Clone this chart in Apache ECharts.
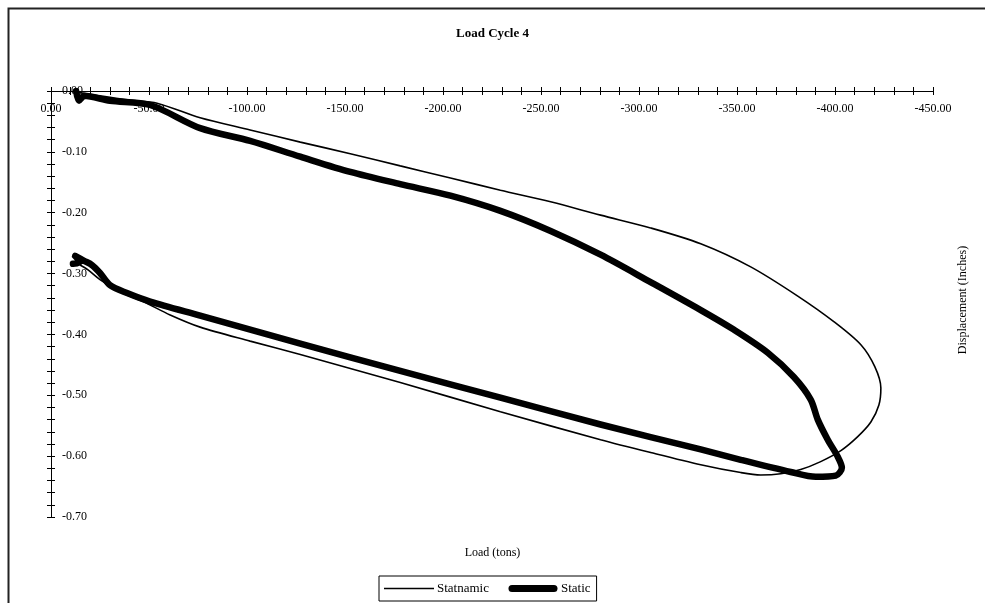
<!DOCTYPE html>
<html>
<head>
<meta charset="utf-8">
<script src="https://cdn.jsdelivr.net/npm/echarts@6/dist/echarts.min.js"></script>
<style>
html,body{margin:0;padding:0;background:#fff;}
#chart{width:985px;height:603px;}
</style>
</head>
<body>
<div id="chart"></div>
<script>
// ---- Data (Load in tons, Displacement in inches) ----
const chartTitle = "Load Cycle 4";
const xAxisTitle = "Load (tons)";
const yAxisTitle = "Displacement (Inches)";
const seriesNames = ["Statnamic", "Static"];

const statnamicLoad = [-13.8,-25.0,-40.3,-54.1,-76.1,-101.6,-127.2,-152.7,-178.2,-203.8,-229.3,-254.9,-280.4,-305.9,-331.5,-357.0,-381.0,-399.4,-413.2,-420.3,-423.4,-422.4,-418.3,-411.6,-403.0,-392.7,-382.5,-372.3,-362.1,-351.9,-331.5,-305.9,-280.4,-229.3,-178.2,-127.2,-101.6,-76.1,-60.8,-47.0,-35.2,-25.0,-18.9,-14.8];
const statnamicDisp = [-0.002,-0.008,-0.015,-0.020,-0.044,-0.064,-0.084,-0.103,-0.123,-0.143,-0.163,-0.182,-0.204,-0.225,-0.251,-0.289,-0.337,-0.379,-0.417,-0.453,-0.488,-0.516,-0.544,-0.568,-0.591,-0.609,-0.622,-0.629,-0.631,-0.627,-0.614,-0.594,-0.573,-0.527,-0.479,-0.433,-0.411,-0.388,-0.368,-0.346,-0.330,-0.310,-0.294,-0.286];

const staticLoad = [-12.8,-14.3,-16.9,-30.1,-50.6,-76.1,-101.6,-127.2,-152.7,-178.2,-203.8,-229.3,-254.9,-280.4,-305.9,-331.5,-348.3,-365.7,-379.0,-387.6,-391.2,-396.3,-401.4,-403.5,-400.4,-390.2,-377.4,-351.9,-331.5,-280.4,-229.3,-178.2,-127.2,-76.1,-50.6,-38.8,-30.1,-25.0,-20.9,-16.9,-12.3,-14.8,-11.2];
const staticDisp = [0.000,-0.016,-0.008,-0.016,-0.023,-0.061,-0.082,-0.108,-0.133,-0.153,-0.172,-0.197,-0.230,-0.269,-0.314,-0.360,-0.392,-0.430,-0.470,-0.507,-0.540,-0.573,-0.601,-0.619,-0.632,-0.634,-0.626,-0.606,-0.589,-0.548,-0.504,-0.460,-0.415,-0.369,-0.346,-0.332,-0.319,-0.299,-0.286,-0.279,-0.271,-0.281,-0.284];

const xMin = -450, xMax = 0, xStep = 50;
const yMin = -0.7, yMax = 0, yStep = 0.1;

// ---- Build ----
const font = "'Liberation Serif', 'Times New Roman', serif";
const pair = (a, b) => a.map((v, i) => [v, b[i]]);
const fmt = v => (Math.abs(v) < 1e-9 ? 0 : v).toFixed(2);

const chart = echarts.init(document.getElementById('chart'), null, {renderer: 'canvas'});

const baseX = {
  type: 'value', min: xMin, max: xMax, interval: xStep, inverse: true,
  position: 'top', splitLine: {show: false},
  axisLine: {onZero: false, lineStyle: {color: '#000', width: 1}},
  minorTick: {show: true, splitNumber: 5, length: 4, lineStyle: {color: '#000', width: 1}},
  minorSplitLine: {show: false}
};
const baseY = {
  type: 'value', min: yMin, max: yMax, interval: yStep,
  position: 'left', splitLine: {show: false},
  axisLine: {onZero: false, lineStyle: {color: '#000', width: 1}},
  minorTick: {show: true, splitNumber: 5, length: 4, lineStyle: {color: '#000', width: 1}},
  minorSplitLine: {show: false}
};

const legendThin = 'path://M0,0L0,0M0,3.3L50,3.3L50,4.7L0,4.7ZM50,8L50,8';
const legendThick = 'path://M4,0.5L46,0.5A3.5,3.5 0 0 1 46,7.5L4,7.5A3.5,3.5 0 0 1 4,0.5ZM0,0L0,0M50,8L50,8';

chart.setOption({
  animation: false,
  backgroundColor: '#fff',
  textStyle: {fontFamily: font, color: '#000'},
  title: [
    {text: chartTitle, left: 'center', top: 22,
     textStyle: {fontFamily: font, fontSize: 13, fontWeight: 'bold', color: '#000'}},
    {text: xAxisTitle, left: 'center', top: 542,
     textStyle: {fontFamily: font, fontSize: 12, fontWeight: 'normal', color: '#000'}}
  ],
  grid: {left: 51, right: 52, top: 91, bottom: 86, containLabel: false},
  xAxis: [
    Object.assign({}, baseX, {
      axisTick: {show: true, inside: false, length: 4, lineStyle: {color: '#000'}},
      minorTick: Object.assign({}, baseX.minorTick, {inside: false}),
      axisLabel: {inside: true, margin: 12, formatter: fmt, fontFamily: font, fontSize: 12, color: '#000',
                  showMinLabel: true, showMaxLabel: true}
    }),
    Object.assign({}, baseX, {
      axisLine: {show: false, onZero: false},
      axisTick: {show: true, inside: true, length: 4, lineStyle: {color: '#000'}},
      minorTick: Object.assign({}, baseX.minorTick, {inside: true}),
      axisLabel: {show: false}
    })
  ],
  yAxis: [
    Object.assign({}, baseY, {
      axisTick: {show: true, inside: false, length: 4, lineStyle: {color: '#000'}},
      axisLabel: {inside: true, margin: 11, formatter: fmt, fontFamily: font, fontSize: 12, color: '#000',
                  showMinLabel: true, showMaxLabel: true}
    }),
    Object.assign({}, baseY, {
      axisLine: {show: false, onZero: false},
      axisTick: {show: true, inside: true, length: 4, lineStyle: {color: '#000'}},
      axisLabel: {show: false}
    })
  ],
  legend: {
    left: 379, top: 576,
    orient: 'horizontal',
    backgroundColor: '#fff', borderColor: '#000', borderWidth: 1,
    padding: [6, 6, 6, 5],
    itemWidth: 50, itemHeight: 8, itemGap: 19,
    textStyle: {fontFamily: font, fontSize: 13, color: '#000', padding: [0, 0, 0, -2]},
    data: [
      {name: seriesNames[0], icon: legendThin, itemStyle: {color: '#000'}},
      {name: seriesNames[1], icon: legendThick, itemStyle: {color: '#000'}}
    ]
  },
  graphic: [
    {type: 'rect', shape: {x: 8.5, y: 8.5, width: 1100, height: 700},
     style: {fill: 'none', stroke: '#222', lineWidth: 2}, silent: true, z: 100},
    {type: 'text', x: 963, y: 300, rotation: Math.PI / 2,
     style: {text: yAxisTitle, font: '12px ' + font, fill: '#000', align: 'center', verticalAlign: 'middle'}}
  ],
  series: [
    {name: seriesNames[0], type: 'line', xAxisIndex: 0, yAxisIndex: 0,
     data: pair(statnamicLoad, statnamicDisp), showSymbol: false, symbol: 'none',
     smooth: 0.3, lineStyle: {color: '#000', width: 1.6}, itemStyle: {color: '#000'}, z: 2},
    {name: seriesNames[1], type: 'line', xAxisIndex: 0, yAxisIndex: 0,
     data: pair(staticLoad, staticDisp), showSymbol: false, symbol: 'none',
     smooth: 0.3, lineStyle: {color: '#000', width: 6.5, cap: 'round', join: 'round'}, itemStyle: {color: '#000'}, z: 3}
  ]
});
</script>
</body>
</html>
